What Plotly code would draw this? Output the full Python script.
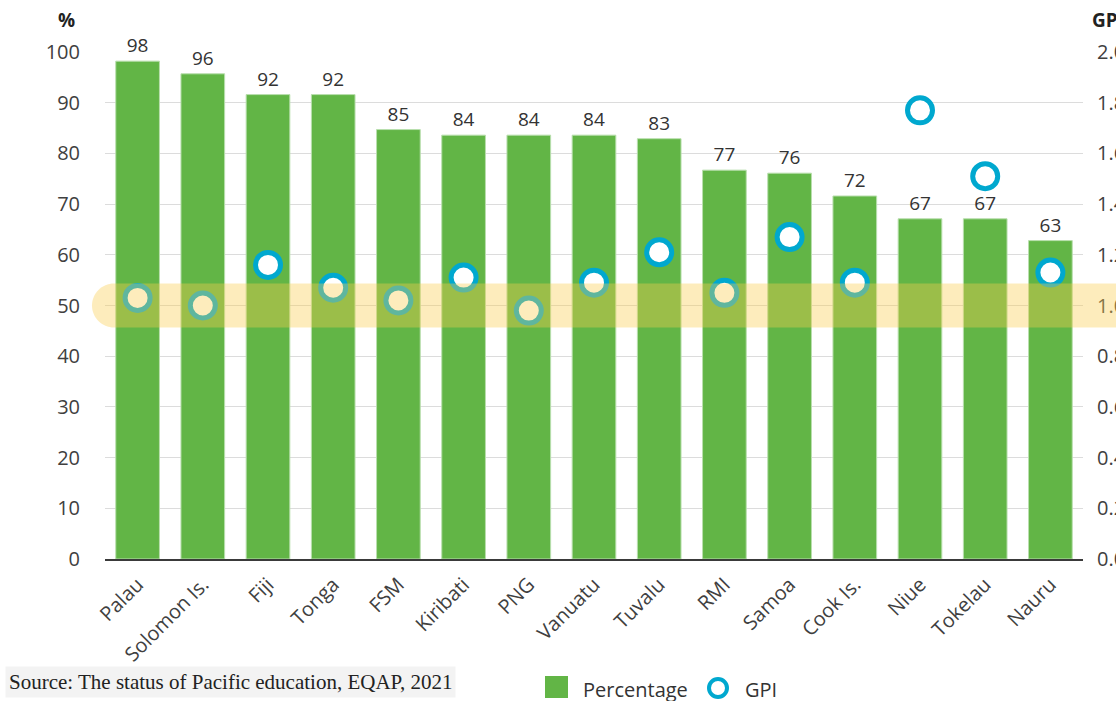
import plotly.graph_objects as go

countries = ["Palau", "Solomon Is.", "Fiji", "Tonga", "FSM", "Kiribati", "PNG", "Vanuatu",
             "Tuvalu", "RMI", "Samoa", "Cook Is.", "Niue", "Tokelau", "Nauru"]
percentage = [98.2, 95.7, 91.6, 91.6, 84.7, 83.6, 83.6, 83.6, 82.9, 76.7, 76.1, 71.6, 67.1, 67.1, 62.8]
gpi = [1.03, 1.00, 1.16, 1.07, 1.02, 1.11, 0.98, 1.09, 1.21, 1.05, 1.27, 1.09, 1.77, 1.51, 1.13]
pct_ticks = list(range(0, 101, 10))
gpi_ticks = [round(i * 0.2, 1) for i in range(11)]

GREEN = "#62b546"
TEAL = "#00a8cf"
TXT = "#404040"
FONT = "Open Sans"

W, H = 1116, 701
L, R, T, B = 105, 33, 52, 142
PW = W - L - R
PH = H - T - B


def px(x):
    return (x - L) / PW


def py(y):
    return (H - B - y) / PH


fig = go.Figure()
fig.add_trace(go.Bar(
    x=countries, y=percentage, name="Percentage",
    marker=dict(color=GREEN, line=dict(color="#b9dfae", width=1)),
    texttemplate="%{y:.0f}", textposition="outside", cliponaxis=False,
    textfont=dict(family=FONT, size=19, color="#333333"),
    showlegend=False,
))
fig.add_trace(go.Scatter(
    x=countries, y=gpi, name="GPI", yaxis="y2", mode="markers",
    marker=dict(size=25, color="white", line=dict(color=TEAL, width=5)),
    cliponaxis=False, showlegend=False,
))

shapes = []
# parity band (drawn above the traces, rounded left end)
r = 22
cx = 9
k = 0.5523 * r
band_path = (f"M {cx},{-r} L 1030,{-r} L 1030,{r} L {cx},{r} "
             f"C {cx - k},{r} {-13},{k} {-13},0 "
             f"C {-13},{-k} {cx - k},{-r} {cx},{-r} Z")
shapes.append(dict(type="path", xref="paper", yref="paper", xsizemode="pixel", ysizemode="pixel",
                   xanchor=0, yanchor=0.5, path=band_path,
                   fillcolor="rgba(250,205,80,0.38)", line=dict(width=0), layer="above"))
# legend symbols
shapes.append(dict(type="rect", xref="paper", yref="paper", x0=px(545), x1=px(568), y0=py(698), y1=py(676),
                   fillcolor=GREEN, line=dict(width=0)))
shapes.append(dict(type="circle", xref="paper", yref="paper", x0=px(709), x1=px(727), y0=py(697), y1=py(679),
                   fillcolor="white", line=dict(color=TEAL, width=4)))

annotations = [
    dict(text="<b>%</b>", x=px(56), y=py(20), xref="paper", yref="paper", showarrow=False,
         yanchor="middle", font=dict(family=FONT, size=19, color="#222222")),
    dict(text="<b>GPI</b>", x=px(1090), y=py(20), xref="paper", yref="paper", showarrow=False,
         xanchor="left", yanchor="middle", font=dict(family=FONT, size=19, color="#222222")),
    dict(text="Percentage", x=px(581), y=py(689), xref="paper", yref="paper", showarrow=False,
         xanchor="left", yanchor="middle", font=dict(family=FONT, size=20, color="#333333")),
    dict(text="GPI", x=px(743), y=py(689), xref="paper", yref="paper", showarrow=False,
         xanchor="left", yanchor="middle", font=dict(family=FONT, size=20, color="#333333")),
    dict(text="Source: The status of Pacific education, EQAP, 2021", x=px(5), y=py(682),
         xref="paper", yref="paper", showarrow=False, xanchor="left", yanchor="middle",
         bgcolor="#f3f3f3", borderpad=3,
         font=dict(family="Liberation Serif", size=21, color="#222222")),
]

fig.update_layout(
    width=W, height=H,
    margin=dict(l=L, r=R, t=T, b=B, autoexpand=False),
    paper_bgcolor="white", plot_bgcolor="white",
    bargap=0.33,
    showlegend=False,
    font=dict(family=FONT, color=TXT),
    xaxis=dict(range=[-0.5, len(countries) - 0.5], tickangle=-45,
               tickfont=dict(family=FONT, size=20, color=TXT),
               showgrid=False, showline=True, linecolor="#3a3a3a", linewidth=2,
               ticks="outside", ticklen=4, tickcolor="rgba(0,0,0,0)"),
    yaxis=dict(range=[0, 100], tickvals=pct_ticks, showgrid=True, gridcolor="#dcdcdc", gridwidth=1,
               zeroline=False, tickfont=dict(family=FONT, size=20, color=TXT),
               ticks="outside", ticklen=20, tickcolor="rgba(0,0,0,0)"),
    yaxis2=dict(range=[0, 2], tickvals=gpi_ticks, tickformat=".1f", overlaying="y", side="right",
                showgrid=False, zeroline=False, tickfont=dict(family=FONT, size=20, color=TXT),
                ticks="outside", ticklen=9, tickcolor="rgba(0,0,0,0)"),
    shapes=shapes,
    annotations=annotations,
)

fig.write_html("out.html")
